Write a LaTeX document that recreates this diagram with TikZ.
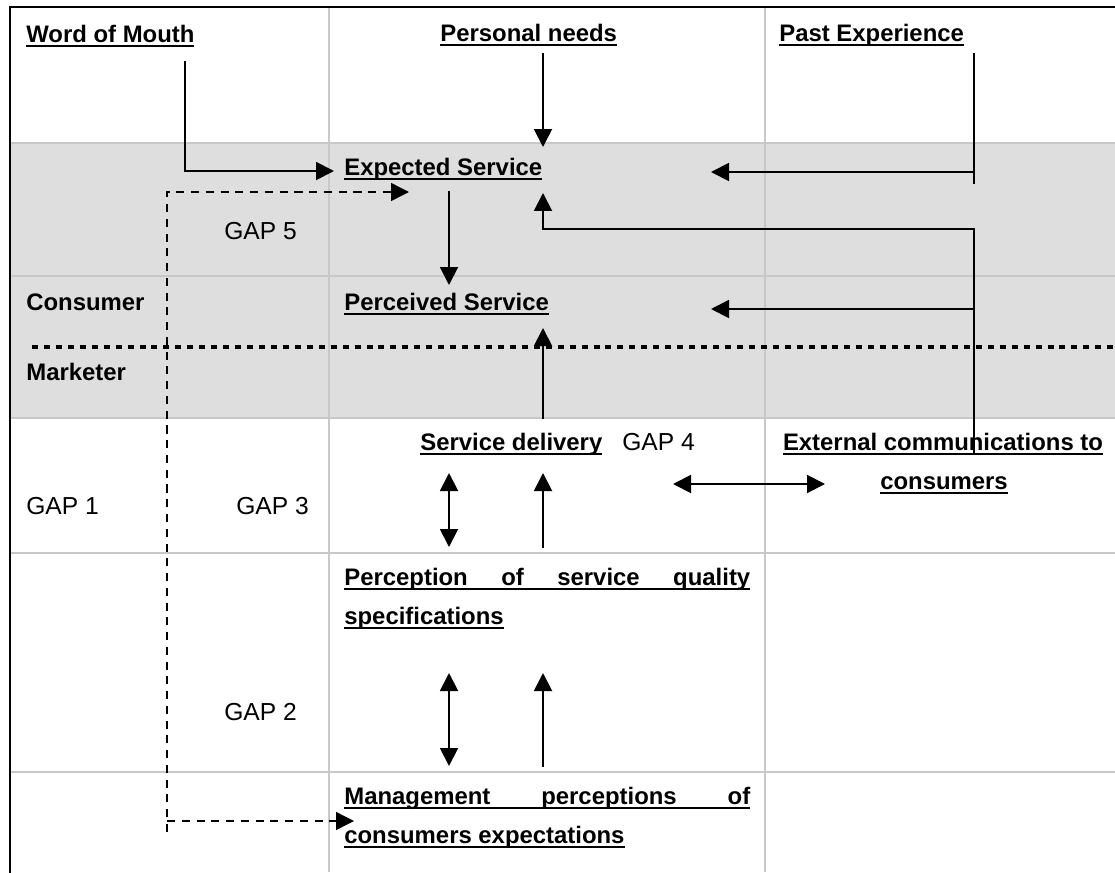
\documentclass[tikz,border=0pt]{standalone}
\usepackage{fontspec}
\setmainfont{Liberation Sans}
\usetikzlibrary{arrows.meta}
\definecolor{bandgrey}{RGB}{221,222,221}
\definecolor{gridgrey}{RGB}{200,200,200}
\newsavebox\ulsave
\newcommand{\ulbox}[1]{\sbox\ulsave{#1}\rlap{\rule[-2.8pt]{\wd\ulsave}{1.1pt}}\usebox\ulsave}

\begin{document}
\begin{tikzpicture}[x=0.02cm, y=-0.02cm,
    lbl/.style={font=\fontsize{13.6}{16}\selectfont\bfseries, inner sep=0pt, anchor=base west},
    gaplbl/.style={font=\fontsize{14}{16}\selectfont, inner sep=0pt, anchor=base west},
    flow/.style={line width=1.1pt},
    arr/.style={flow, -{Triangle[length=0.36cm,width=0.36cm]}},
    dblarr/.style={flow, {Triangle[length=0.36cm,width=0.36cm]}-{Triangle[length=0.36cm,width=0.36cm]}},
    gapflow/.style={line width=0.8pt, dash pattern=on 4.6pt off 3.8pt, -{Triangle[length=0.36cm,width=0.36cm]}},
    gridline/.style={draw=gridgrey, line width=1.1pt}]
\useasboundingbox (0,0) rectangle (1115,872);
\fill[bandgrey] (10,143) rectangle (1115,418);
\foreach \y in {143,276,418,553,772} \draw[gridline] (10,\y) -- (1115,\y);
\foreach \x in {329,765} \draw[gridline] (\x,7) -- (\x,872);
\draw[line width=1.2pt] (10,880) -- (10,7) -- (1125,7);
\draw[line width=2.3pt, dash pattern=on 3.4pt off 3.4pt] (32,347) -- (1115,347);

\node[lbl] (wom) at (26,42) {\ulbox{Word of Mouth}};
\node[lbl] (needs) at (440,41) {\ulbox{Personal needs}};
\node[lbl] (past) at (779,41) {\ulbox{Past Experience}};
\node[lbl] (expected) at (344,175) {\ulbox{Expected Service}};
\node[lbl] (perceived) at (344,310) {\ulbox{Perceived Service}};
\node[lbl] (consumer) at (26,310) {Consumer};
\node[lbl] (marketer) at (26,380) {Marketer};
\node[lbl] (delivery) at (420,450) {\ulbox{Service delivery}};
\node[lbl, anchor=base] (extcom) at (943,450) {\ulbox{External communications to}};
\node[lbl, anchor=base] (extcomb) at (944,489) {\ulbox{consumers}};
\node[lbl] (specs) at (344,585) {\ulbox{\makebox[8.12cm][s]{Perception of service quality}}};
\node[lbl] (specsb) at (344,624) {\ulbox{specifications}};
\node[lbl] (mgmt) at (344,804) {\ulbox{\makebox[8.12cm][s]{Management perceptions of}}};
\node[lbl] (mgmtb) at (344,843) {\ulbox{consumers expectations}};
\node[gaplbl] (gapfive) at (224,239) {GAP 5};
\node[gaplbl] (gapone) at (26,514) {GAP 1};
\node[gaplbl] (gapthree) at (236,514) {GAP 3};
\node[gaplbl] (gaptwo) at (224,720) {GAP 2};
\node[gaplbl] (gapfour) at (622,450) {GAP 4};

\coordinate (womdrop) at (185,61);
\coordinate (expleft) at (334,171);
\coordinate (needsdrop) at (543,53);
\coordinate (exptop) at (543,147);
\coordinate (pastdrop) at (974,53);
\coordinate (pastend) at (974,184);
\coordinate (pastjoin) at (974,172);
\coordinate (expright) at (711,172);
\coordinate (extrise) at (974,455);
\coordinate (extturn) at (974,229);
\coordinate (expbottom) at (543,193);
\coordinate (extjoin) at (974,309);
\coordinate (percright) at (711,309);
\coordinate (expdrop) at (449,191);
\coordinate (perctop) at (449,285);
\coordinate (delivtop) at (543,419);
\coordinate (percbottom) at (543,328);
\coordinate (delivdown) at (449,473);
\coordinate (specup) at (449,547);
\coordinate (specrise) at (543,548);
\coordinate (delivbottom) at (543,473);
\coordinate (specdown) at (449,673);
\coordinate (mgmtup) at (449,766);
\coordinate (mgmtrise) at (543,767);
\coordinate (specbottom) at (543,673);
\coordinate (delivright) at (673,484);
\coordinate (extleft) at (825,484);
\coordinate (gapcorner) at (167,192);
\coordinate (gaptip) at (409,192);
\coordinate (gapfoot) at (167,832);
\coordinate (mgmtjoin) at (167,821);
\coordinate (mgmtleft) at (354,821);

\draw[arr] (womdrop) |- (expleft);
\draw[arr] (needsdrop) -- (exptop);
\draw[flow] (pastdrop) -- (pastend);
\draw[arr] (pastjoin) -- (expright);
\draw[arr] (extrise) -- (extturn) -| (expbottom);
\draw[arr] (extjoin) -- (percright);
\draw[arr] (expdrop) -- (perctop);
\draw[arr] (delivtop) -- (percbottom);
\draw[dblarr] (delivdown) -- (specup);
\draw[arr] (specrise) -- (delivbottom);
\draw[dblarr] (specdown) -- (mgmtup);
\draw[arr] (mgmtrise) -- (specbottom);
\draw[dblarr] (delivright) -- (extleft);
\draw[gapflow] (gapfoot) -- (gapcorner) -- (gaptip);
\draw[gapflow] (mgmtjoin) -- (mgmtleft);
\end{tikzpicture}
\end{document}
